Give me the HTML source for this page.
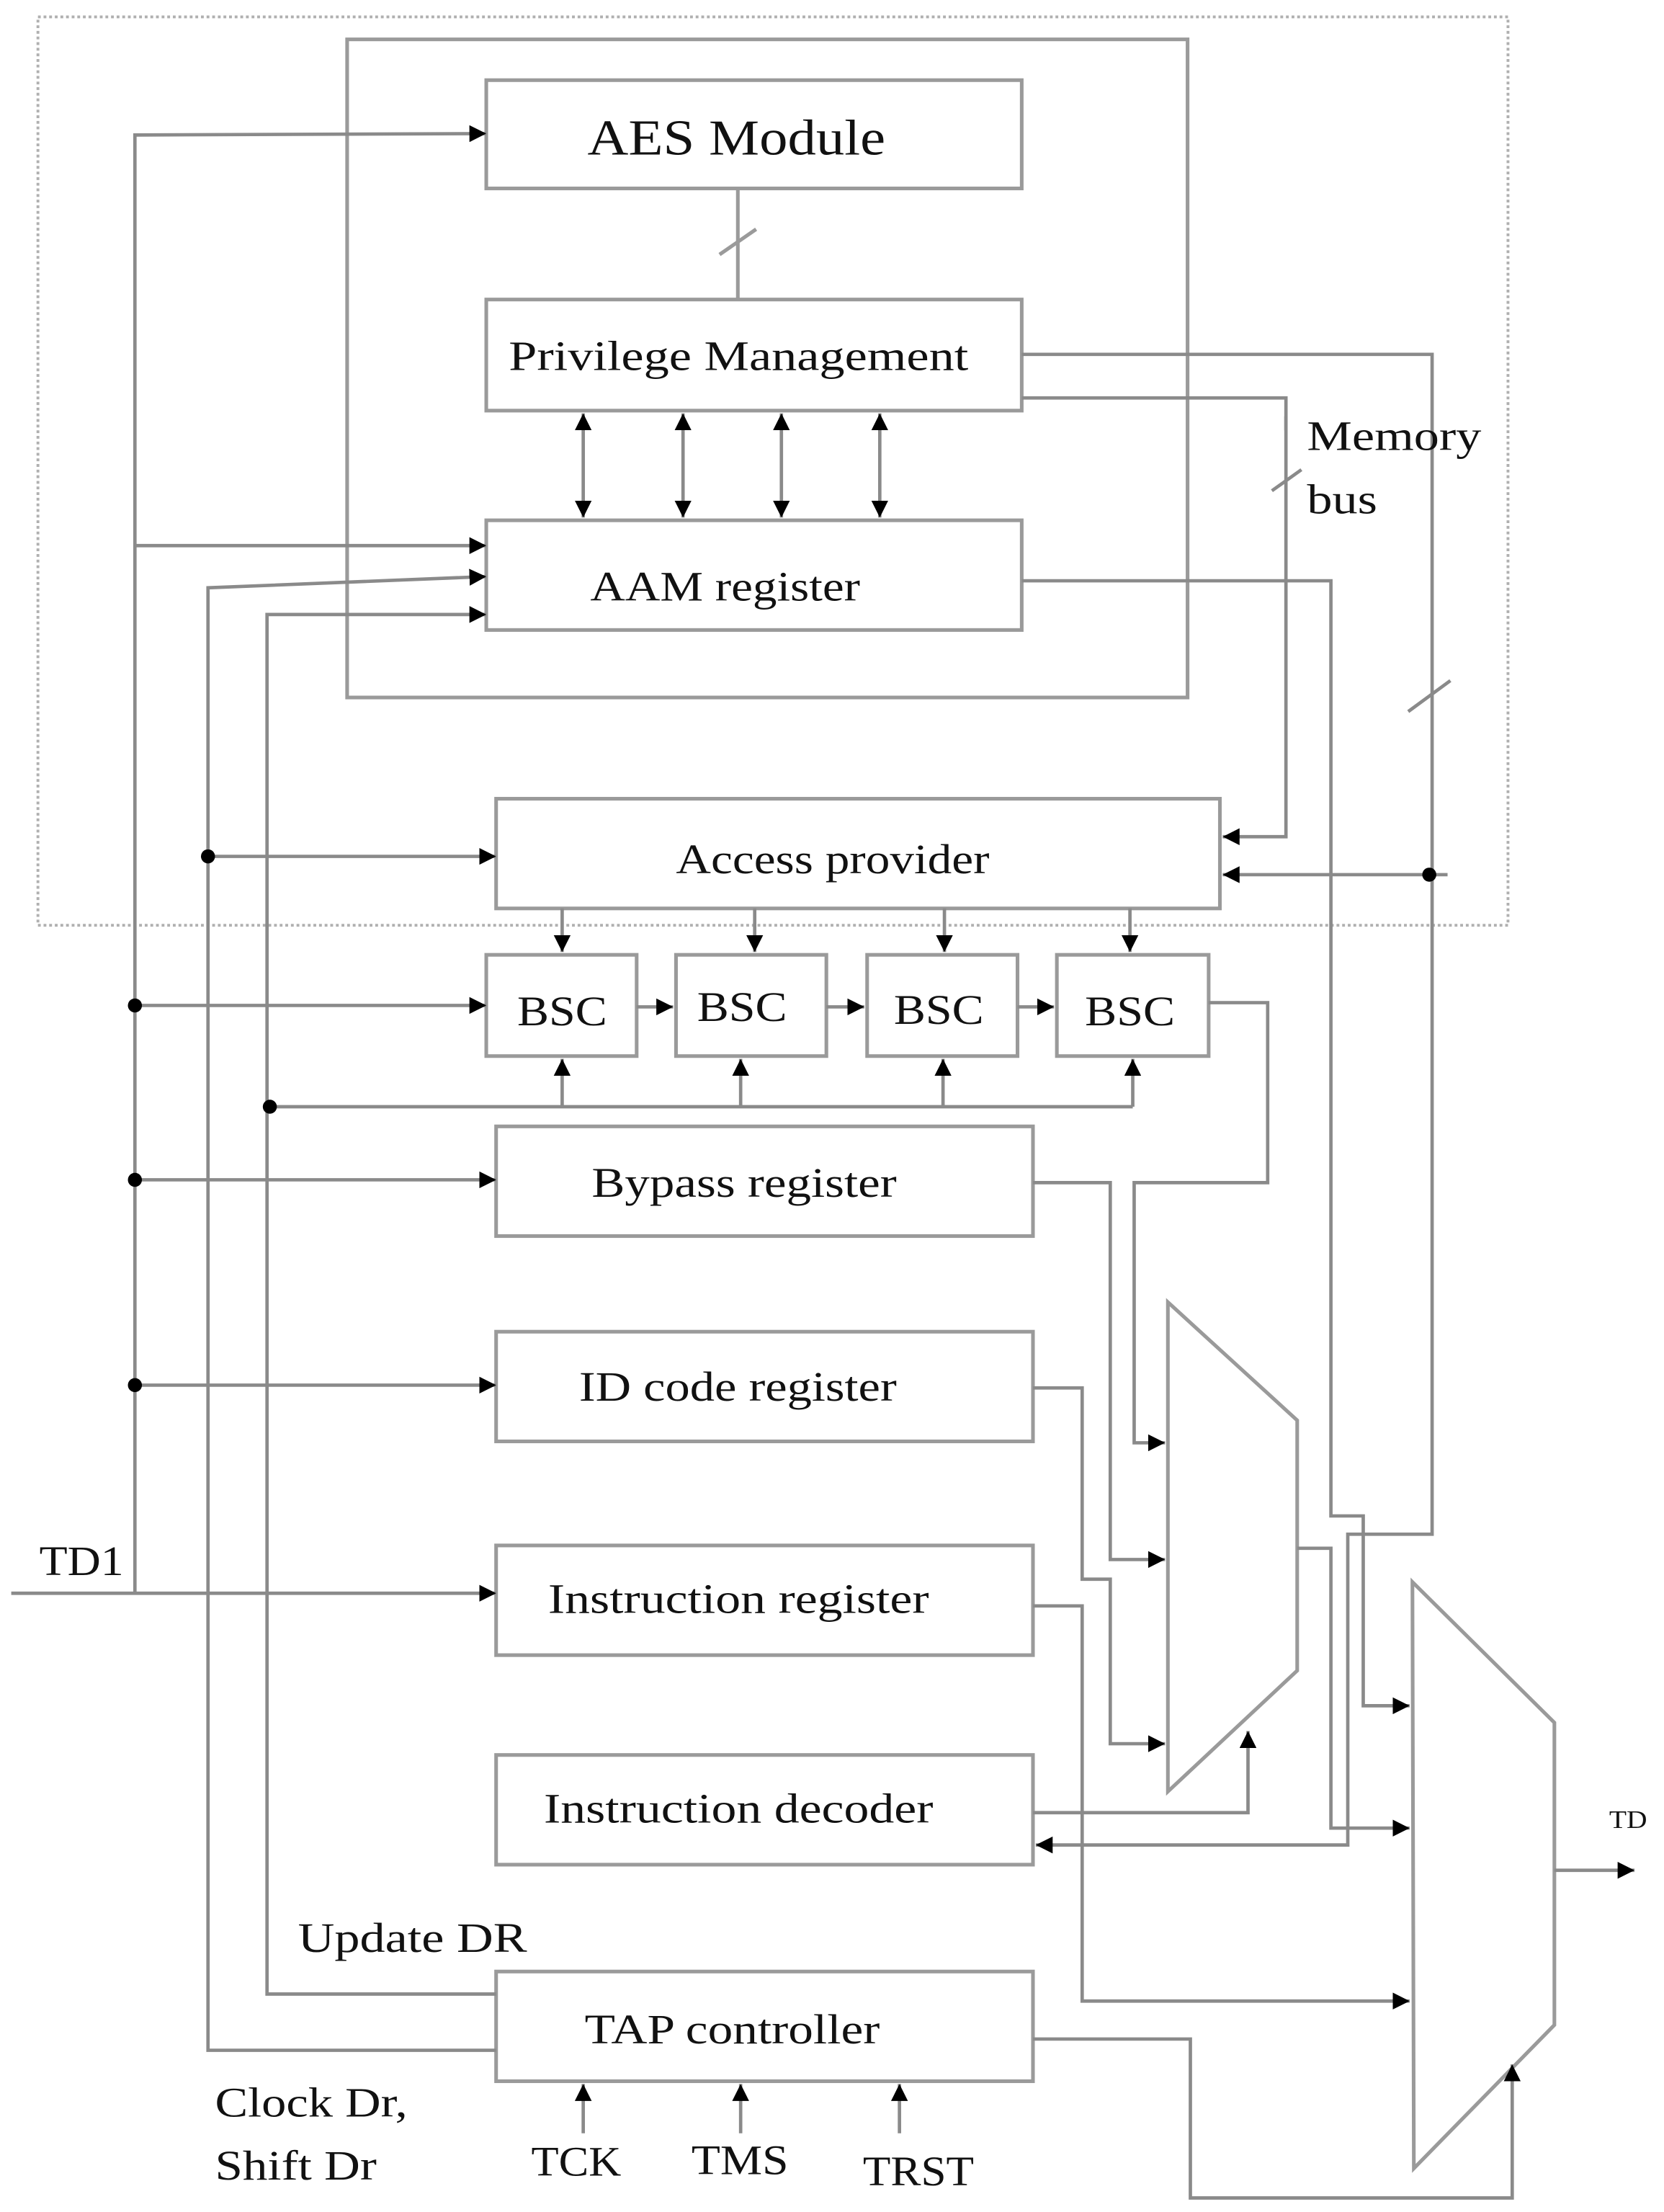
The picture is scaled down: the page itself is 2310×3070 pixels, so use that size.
<!DOCTYPE html>
<html><head><meta charset="utf-8"><style>html,body{margin:0;padding:0;background:#fff}svg{display:block}</style></head>
<body>
<svg width="2310" height="3070" viewBox="0 0 1184 1573" preserveAspectRatio="none" xmlns="http://www.w3.org/2000/svg">
<defs>
<marker id="a" viewBox="0 0 10 10" refX="10" refY="5" markerWidth="5" markerHeight="5" orient="auto-start-reverse" markerUnits="strokeWidth"><path d="M0,0 L10,5 L0,10 z" fill="#000"/></marker>
</defs>
<rect width="1184" height="1573" fill="#fff"/>
<rect x="27" y="12" width="1046" height="646" fill="none" stroke="#b0b0b0" stroke-width="2" stroke-dasharray="2,2"/>
<g fill="none" stroke="#9a9a9a" stroke-width="2.6">
<rect x="247" y="28" width="598" height="468"/>
<rect x="346" y="57" width="381" height="77"/>
<rect x="346" y="213" width="381" height="79"/>
<rect x="346" y="370" width="381" height="78"/>
<rect x="353" y="568" width="515" height="78"/>
<rect x="346" y="679" width="107" height="72"/>
<rect x="481" y="679" width="107" height="72"/>
<rect x="617" y="679" width="107" height="72"/>
<rect x="752" y="679" width="108" height="72"/>
<rect x="353" y="801" width="382" height="78"/>
<rect x="353" y="947" width="382" height="78"/>
<rect x="353" y="1099" width="382" height="78"/>
<rect x="353" y="1248" width="382" height="78"/>
<rect x="353" y="1402" width="382" height="78"/>
<polygon points="831,926 923,1010 923,1188 831,1274"/>
<polygon points="1005,1125 1106,1225 1106,1440 1006,1542"/>
<!-- AES to priv -->
<line x1="525" y1="134" x2="525" y2="213"/>
<line x1="512" y1="181" x2="538" y2="163"/>
</g>
<g fill="none" stroke="#8a8a8a" stroke-width="2.4" marker-end="url(#a)">
<!-- priv <-> AAM -->
<line x1="415" y1="294" x2="415" y2="368" marker-start="url(#a)"/>
<line x1="486" y1="294" x2="486" y2="368" marker-start="url(#a)"/>
<line x1="556" y1="294" x2="556" y2="368" marker-start="url(#a)"/>
<line x1="626" y1="294" x2="626" y2="368" marker-start="url(#a)"/>
<!-- left buses -->
<polyline points="8,1133 353,1133"/>
<polyline points="96,1133 96,96 346,95"/>
<line x1="96" y1="388" x2="346" y2="388"/>
<line x1="96" y1="715" x2="346" y2="715"/>
<line x1="96" y1="839" x2="353" y2="839"/>
<line x1="96" y1="985" x2="353" y2="985"/>
<polyline points="353,1458 148,1458 148,418 346,410" marker-end="url(#a)"/>
<line x1="148" y1="609" x2="353" y2="609"/>
<polyline points="353,1418 190,1418 190,437 346,437"/>
<polyline points="192,787 806,787" marker-end="none"/>
<line x1="400" y1="787" x2="400" y2="753"/>
<line x1="527" y1="787" x2="527" y2="753"/>
<line x1="671" y1="787" x2="671" y2="753"/>
<line x1="806" y1="787" x2="806" y2="753"/>
<line x1="400" y1="646" x2="400" y2="677"/>
<line x1="537" y1="646" x2="537" y2="677"/>
<line x1="672" y1="646" x2="672" y2="677"/>
<line x1="804" y1="646" x2="804" y2="677"/>
<line x1="453" y1="716" x2="479" y2="716"/>
<line x1="588" y1="716" x2="615" y2="716"/>
<line x1="724" y1="716" x2="750" y2="716"/>
<!-- into mux1 -->
<polyline points="860,713 902,713 902,841 807,841 807,1026 829,1026"/>
<polyline points="735,841 790,841 790,1109 829,1109"/>
<polyline points="735,987 770,987 770,1123 790,1123 790,1240 829,1240"/>
<polyline points="735,1289 888,1289 888,1231"/>
<!-- mux1 out -->
<polyline points="923,1101 947,1101 947,1300 1003,1300"/>
<!-- priv right -->
<polyline points="727,252 1019,252 1019,1091 959,1091 959,1312 737,1312"/>
<polyline points="727,283 915,283 915,595 870,595"/>
<polyline points="1030,622 870,622"/>
<!-- AAM right -->
<polyline points="727,413 947,413 947,1078 970,1078 970,1213 1003,1213"/>
<!-- IR to mux2 -->
<polyline points="735,1142 770,1142 770,1423 1003,1423"/>
<!-- TAP to mux2 select -->
<polyline points="735,1450 847,1450 847,1563 1076,1563 1076,1468"/>
<line x1="1106" y1="1330" x2="1163" y2="1330"/>
<line x1="415" y1="1517" x2="415" y2="1482"/>
<line x1="527" y1="1517" x2="527" y2="1482"/>
<line x1="640" y1="1517" x2="640" y2="1482"/>
</g>
<g stroke="#8a8a8a" stroke-width="2.4">
<line x1="905" y1="349" x2="926" y2="334"/>
<line x1="915" y1="296" x2="915" y2="306"/>
<line x1="1002" y1="506" x2="1032" y2="484"/>
</g>
<g fill="#000">
<circle cx="96" cy="715" r="5"/><circle cx="96" cy="839" r="5"/><circle cx="96" cy="985" r="5"/>
<circle cx="148" cy="609" r="5"/><circle cx="192" cy="787" r="5"/><circle cx="1017" cy="622" r="5"/>
</g>
<g font-family="Liberation Serif, serif" fill="#111" font-size="30">
<text x="418" y="110" font-size="36" textLength="212" lengthAdjust="spacingAndGlyphs">AES Module</text>
<text x="362" y="263" textLength="327" lengthAdjust="spacingAndGlyphs">Privilege Management</text>
<text x="420" y="427" textLength="192" lengthAdjust="spacingAndGlyphs">AAM register</text>
<text x="481" y="621" textLength="223" lengthAdjust="spacingAndGlyphs">Access provider</text>
<text x="368" y="729" textLength="64" lengthAdjust="spacingAndGlyphs">BSC</text>
<text x="496" y="726" textLength="64" lengthAdjust="spacingAndGlyphs">BSC</text>
<text x="636" y="728" textLength="64" lengthAdjust="spacingAndGlyphs">BSC</text>
<text x="772" y="729" textLength="64" lengthAdjust="spacingAndGlyphs">BSC</text>
<text x="421" y="851" textLength="217" lengthAdjust="spacingAndGlyphs">Bypass register</text>
<text x="412" y="996" textLength="226" lengthAdjust="spacingAndGlyphs">ID code register</text>
<text x="390" y="1147" textLength="271" lengthAdjust="spacingAndGlyphs">Instruction register</text>
<text x="387" y="1296" textLength="277" lengthAdjust="spacingAndGlyphs">Instruction decoder</text>
<text x="416" y="1453" textLength="210" lengthAdjust="spacingAndGlyphs">TAP controller</text>
<text x="212" y="1388" textLength="163" lengthAdjust="spacingAndGlyphs">Update DR</text>
<text x="153" y="1505" textLength="137" lengthAdjust="spacingAndGlyphs">Clock Dr,</text>
<text x="153" y="1550" textLength="115" lengthAdjust="spacingAndGlyphs">Shift Dr</text>
<text x="378" y="1547" textLength="64" lengthAdjust="spacingAndGlyphs">TCK</text>
<text x="492" y="1546" textLength="69" lengthAdjust="spacingAndGlyphs">TMS</text>
<text x="614" y="1554" textLength="79" lengthAdjust="spacingAndGlyphs">TRST</text>
<text x="930" y="320" textLength="124" lengthAdjust="spacingAndGlyphs">Memory</text>
<text x="930" y="365" textLength="50" lengthAdjust="spacingAndGlyphs">bus</text>
<text x="28" y="1120" textLength="60" lengthAdjust="spacingAndGlyphs">TD1</text>
<text x="1145" y="1300" font-size="18" textLength="27" lengthAdjust="spacingAndGlyphs">TD</text>
</g>
</svg>
</body></html>
